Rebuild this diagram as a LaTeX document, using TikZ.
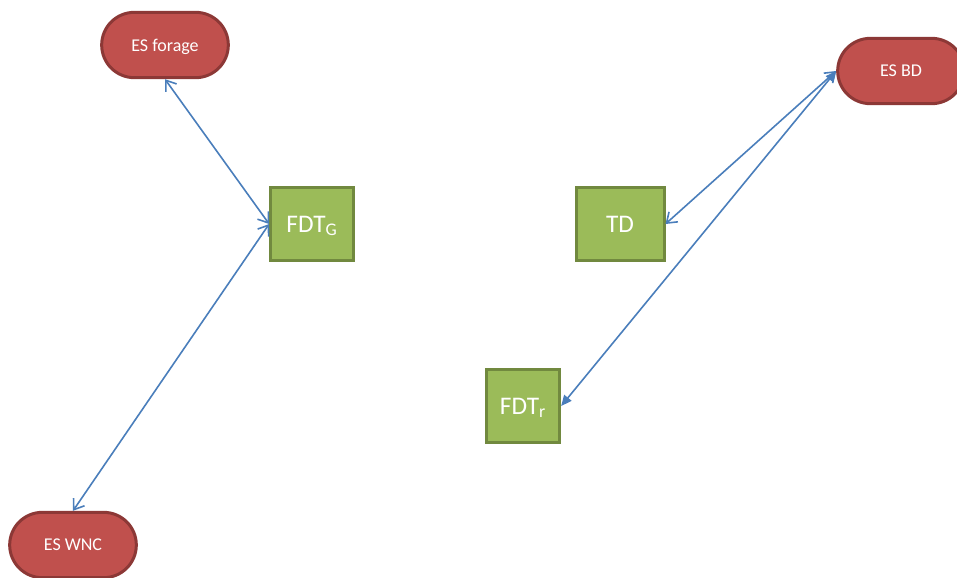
\documentclass[tikz,border=0pt]{standalone}
\usepackage{fontspec}
\setmainfont{Carlito}
\usetikzlibrary{shapes.misc,arrows.meta}

\begin{document}
\begin{tikzpicture}[x=0.75pt,y=0.75pt,yscale=-1,xscale=1,
		es/.style={rounded rectangle,draw={rgb, 255:red, 140; green, 56; blue, 54 },fill={rgb, 255:red, 192; green, 80; blue, 77 },line width=2.25pt,minimum width=95pt,minimum height=49pt,inner sep=0pt,text depth=0pt,text=white,font=\fontsize{13.5}{16}\selectfont},
		fdt/.style={rectangle,draw={rgb, 255:red, 113; green, 137; blue, 63 },fill={rgb, 255:red, 155; green, 187; blue, 89 },line width=2.25pt,minimum height=55pt,inner sep=0pt,text depth=0pt,text=white,font=\fontsize{19}{22}\selectfont},
		link/.style={color={rgb, 255:red, 74; green, 126; blue, 187 },line width=1.2pt},
		open/.style={link,{Straight Barb[length=7pt,width=10pt]}-{Straight Barb[length=7pt,width=10pt]}},
		full/.style={link,{Triangle[length=8pt,width=7pt]}-{Triangle[length=8pt,width=7pt]}}]
		\useasboundingbox (0,0) rectangle (957,578);
		
		% Terminal Nodes
		\node [es] (esforage) at (165,45) {ES forage};
		\node [es] (eswnc) at (73,545) {ES WNC};
		\node [es] (esbd) at (901,71) {ES BD};
		% Box Nodes
		\node [fdt,minimum width=62pt] (fdtg) at (312,224) {FDT\textsubscript{G}};
		\node [fdt,minimum width=66pt] (td) at (620,224) {TD};
		\node [fdt,minimum width=55pt] (fdtr) at (523,406) {FDT\textsubscript{r}};
		
		%Straight Lines
		\draw [open] (esforage.south) -- (fdtg.west) ;
		\draw [open] (fdtg.west) -- (eswnc.north) ;
		\draw [open] (esbd.west) -- (td.east) ;
		\draw [full] (esbd.west) -- (fdtr.east) ;
		
	\end{tikzpicture}
\end{document}
